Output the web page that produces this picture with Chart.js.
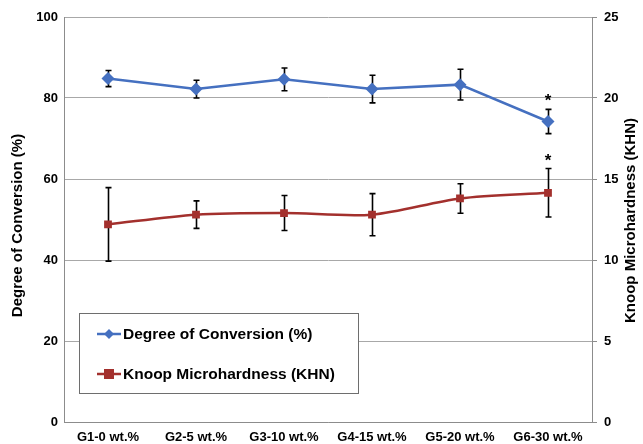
<!DOCTYPE html>
<html>
<head>
<meta charset="utf-8">
<script src="https://cdn.jsdelivr.net/npm/chart.js@4"></script>
<style>
  html, body { margin: 0; padding: 0; background: #ffffff; }
  #wrap { width: 643px; height: 444px; }
</style>
</head>
<body>
<div id="wrap"><canvas id="c" width="643" height="444"></canvas></div>
<script>
// ---- data ----
const categories = ['G1-0 wt.%', 'G2-5 wt.%', 'G3-10 wt.%', 'G4-15 wt.%', 'G5-20 wt.%', 'G6-30 wt.%'];
const dcValues = [84.8, 82.2, 84.6, 82.2, 83.3, 74.2];
const dcErrors = [2.0, 2.2, 2.8, 3.4, 3.8, 3.0];
const khnValues = [12.2, 12.8, 12.9, 12.8, 13.8, 14.15];
const khnErrors = [2.27, 0.85, 1.08, 1.3, 0.91, 1.5];
const dcSignificant = [false, false, false, false, false, true];
const khnSignificant = [false, false, false, false, false, true];
const leftTicks = [0, 20, 40, 60, 80, 100];
const rightTicks = [0, 5, 10, 15, 20, 25];
const dcLabel = 'Degree of Conversion (%)';
const khnLabel = 'Knoop Microhardness (KHN)';

const BLUE = '#4570c0';
const RED = '#a3302d';
const GRID = '#a8a8a8';
const AXIS = '#8c8c8c';
const FONT = 'Arial, "Liberation Sans", sans-serif';

const errorBarPlugin = {
  id: 'errorBars',
  beforeDatasetsDraw(chart) {
    const ctx = chart.ctx;
    const x = chart.scales.x;
    const sets = [
      { vals: dcValues, errs: dcErrors, scale: chart.scales.y },
      { vals: khnValues, errs: khnErrors, scale: chart.scales.y1 }
    ];
    ctx.save();
    ctx.strokeStyle = '#000000';
    ctx.lineWidth = 1.6;
    sets.forEach(s => {
      s.vals.forEach((v, i) => {
        const px = Math.round(x.getPixelForValue(i)) + 0.5;
        const top = s.scale.getPixelForValue(v + s.errs[i]);
        const bot = s.scale.getPixelForValue(v - s.errs[i]);
        ctx.beginPath();
        ctx.moveTo(px, top); ctx.lineTo(px, bot);
        ctx.moveTo(px - 3, top); ctx.lineTo(px + 3, top);
        ctx.moveTo(px - 3, bot); ctx.lineTo(px + 3, bot);
        ctx.stroke();
      });
    });
    ctx.restore();
  },
  afterDatasetsDraw(chart) {
    const ctx = chart.ctx;
    const x = chart.scales.x;
    ctx.save();
    ctx.fillStyle = '#000000';
    ctx.font = 'bold 17px ' + FONT;
    ctx.textAlign = 'center';
    ctx.textBaseline = 'middle';
    dcSignificant.forEach((sig, i) => {
      if (!sig) return;
      const px = x.getPixelForValue(i);
      const top = chart.scales.y.getPixelForValue(dcValues[i] + dcErrors[i]);
      ctx.fillText('*', px, top - 8);
    });
    khnSignificant.forEach((sig, i) => {
      if (!sig) return;
      const px = x.getPixelForValue(i);
      const top = chart.scales.y1.getPixelForValue(khnValues[i] + khnErrors[i]);
      ctx.fillText('*', px, top - 7);
    });
    ctx.restore();
  },
  afterDraw(chart) {
    const ctx = chart.ctx;
    const area = chart.chartArea;
    const midY = (area.top + area.bottom) / 2;
    ctx.save();
    // axis titles
    ctx.fillStyle = '#000000';
    ctx.font = 'bold 15px ' + FONT;
    ctx.textAlign = 'center';
    ctx.textBaseline = 'middle';
    ctx.save();
    ctx.translate(18, midY + 6);
    ctx.rotate(-Math.PI / 2);
    ctx.fillText(dcLabel, 0, 0);
    ctx.restore();
    ctx.save();
    ctx.translate(631, midY + 1);
    ctx.rotate(-Math.PI / 2);
    ctx.fillText(khnLabel, 0, 0);
    ctx.restore();

    // legend box
    const lx = 79.5, ly = 313.5, lw = 279, lh = 80;
    ctx.fillStyle = '#ffffff';
    ctx.fillRect(lx, ly, lw, lh);
    ctx.strokeStyle = '#6e6e6e';
    ctx.lineWidth = 1;
    ctx.strokeRect(lx, ly, lw, lh);
    const items = [
      { label: dcLabel, color: BLUE, marker: 'diamond', y: 334 },
      { label: khnLabel, color: RED, marker: 'square', y: 374 }
    ];
    items.forEach(it => {
      ctx.strokeStyle = it.color;
      ctx.lineWidth = 2.5;
      ctx.beginPath();
      ctx.moveTo(97, it.y); ctx.lineTo(121, it.y);
      ctx.stroke();
      ctx.fillStyle = it.color;
      if (it.marker === 'diamond') {
        ctx.beginPath();
        ctx.moveTo(109, it.y - 5); ctx.lineTo(114, it.y);
        ctx.lineTo(109, it.y + 5); ctx.lineTo(104, it.y);
        ctx.closePath(); ctx.fill();
      } else {
        ctx.fillRect(104, it.y - 5, 10, 10);
      }
      ctx.fillStyle = '#000000';
      ctx.font = 'bold 15.5px ' + FONT;
      ctx.textAlign = 'left';
      ctx.fillText(it.label, 123, it.y + 1);
    });
    ctx.restore();
  }
};

new Chart(document.getElementById('c'), {
  type: 'line',
  data: {
    labels: categories,
    datasets: [
      {
        label: dcLabel,
        data: dcValues,
        yAxisID: 'y',
        borderColor: BLUE,
        backgroundColor: BLUE,
        borderWidth: 2.5,
        pointStyle: 'rectRot',
        pointRadius: 6.5,
        pointBorderWidth: 0,
        pointBackgroundColor: BLUE,
        tension: 0
      },
      {
        label: khnLabel,
        data: khnValues,
        yAxisID: 'y1',
        borderColor: RED,
        backgroundColor: RED,
        borderWidth: 2.5,
        pointStyle: 'rect',
        pointRadius: 5.5,
        pointBorderWidth: 0,
        pointBackgroundColor: RED,
        tension: 0.3
      }
    ]
  },
  options: {
    responsive: false,
    animation: false,
    devicePixelRatio: 1,
    layout: { padding: { top: 17, left: 0, right: 0, bottom: 0 } },
    plugins: { legend: { display: false }, tooltip: { enabled: false } },
    scales: {
      x: {
        type: 'category',
        offset: true,
        grid: { display: false, drawTicks: false },
        border: { display: true, color: AXIS, width: 1 },
        ticks: { color: '#000', font: { family: FONT, size: 13, weight: 'bold' }, padding: 8, maxRotation: 0, autoSkip: false },
        afterFit(s) { s.height = 22; }
      },
      y: {
        position: 'left',
        min: 0, max: 100,
        afterBuildTicks(s) { s.ticks = leftTicks.map(v => ({ value: v })); },
        grid: { color: GRID, lineWidth: 1, drawTicks: false },
        border: { display: true, color: AXIS, width: 1 },
        ticks: { color: '#000', font: { family: FONT, size: 13, weight: 'bold' }, padding: 6 },
        afterFit(s) { s.width = 64; }
      },
      y1: {
        position: 'right',
        min: 0, max: 25,
        afterBuildTicks(s) { s.ticks = rightTicks.map(v => ({ value: v })); },
        grid: { drawOnChartArea: false, color: AXIS, drawTicks: true, tickLength: 5 },
        border: { display: true, color: AXIS, width: 1 },
        ticks: { color: '#000', font: { family: FONT, size: 13, weight: 'bold' }, padding: 7 },
        afterFit(s) { s.width = 51; }
      }
    }
  },
  plugins: [errorBarPlugin]
});
</script>
</body>
</html>
